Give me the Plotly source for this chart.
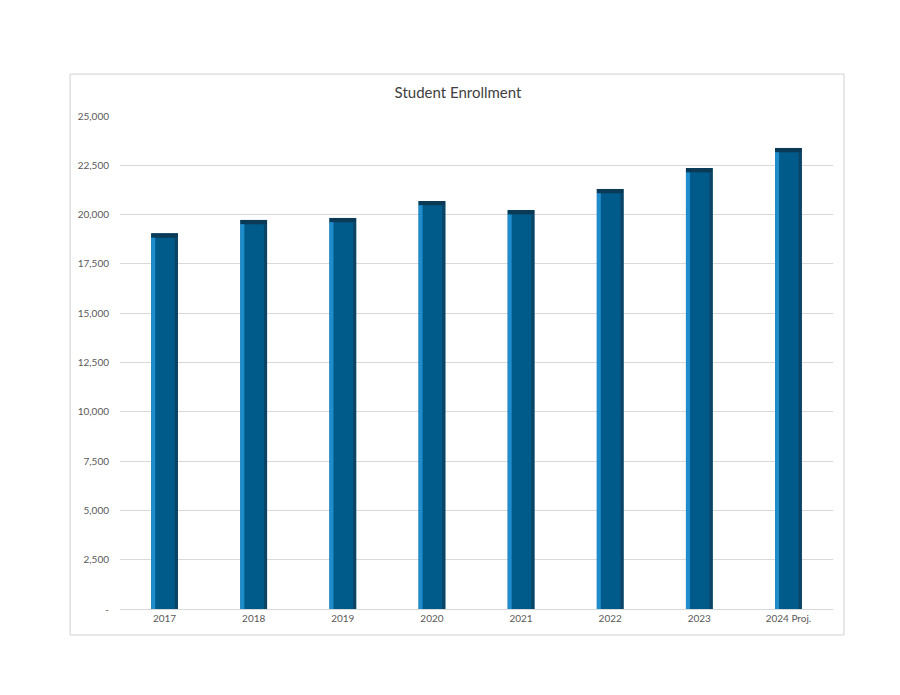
import plotly.graph_objects as go

years = ["2017", "2018", "2019", "2020", "2021", "2022", "2023", "2024 Proj."]
enrollment = [19050, 19730, 19830, 20690, 20230, 21300, 22360, 23380]
tick_vals = [0, 2500, 5000, 7500, 10000, 12500, 15000, 17500, 20000, 22500, 25000]
tick_text = ["-", "2,500", "5,000", "7,500", "10,000", "12,500", "15,000",
             "17,500", "20,000", "22,500", "25,000"]
cap = 220

fig = go.Figure()
# main bar body
fig.add_trace(go.Bar(x=years, y=enrollment, width=0.3, marker_color="#005b8a",
                     marker_line_width=0, hoverinfo="x+y"))
# dark top bevel
fig.add_trace(go.Bar(x=years, y=[cap] * len(years), base=[v - cap for v in enrollment],
                     width=0.3, marker_color="#0a3a55", marker_line_width=0, hoverinfo="skip"))
# light left bevel
fig.add_trace(go.Bar(x=years, y=[v - cap for v in enrollment], width=0.045, offset=-0.15,
                     marker_color="#1f8ccb", marker_line_width=0, hoverinfo="skip"))
# dark right bevel
fig.add_trace(go.Bar(x=years, y=[v - cap for v in enrollment], width=0.035, offset=0.115,
                     marker_color="#0c4466", marker_line_width=0, hoverinfo="skip"))

fig.update_layout(
    width=900, height=695,
    barmode="overlay", showlegend=False,
    paper_bgcolor="white", plot_bgcolor="white",
    margin=dict(l=112, r=75, t=108, b=94),
    font=dict(family="Lato, Noto Sans, sans-serif", color="#595959", size=10),
    title=dict(text="Student Enrollment", x=0.5, xanchor="center", y=0.878, yanchor="middle",
               font=dict(size=15, color="#404040")),
    xaxis=dict(showgrid=False, showline=True, linecolor="#d9d9d9", ticks="", tickfont=dict(size=10)),
    yaxis=dict(range=[0, 25000], tickvals=tick_vals, ticktext=tick_text, showgrid=True,
               gridcolor="#d9d9d9", zeroline=False, ticks="", ticklabelstandoff=10),
    shapes=[dict(type="rect", xref="paper", yref="paper", x0=-0.070, x1=1.0154,
                 y0=-0.0527, y1=1.085, line=dict(color="#d0d0d0", width=1))],
)

fig.write_html("out.html")
